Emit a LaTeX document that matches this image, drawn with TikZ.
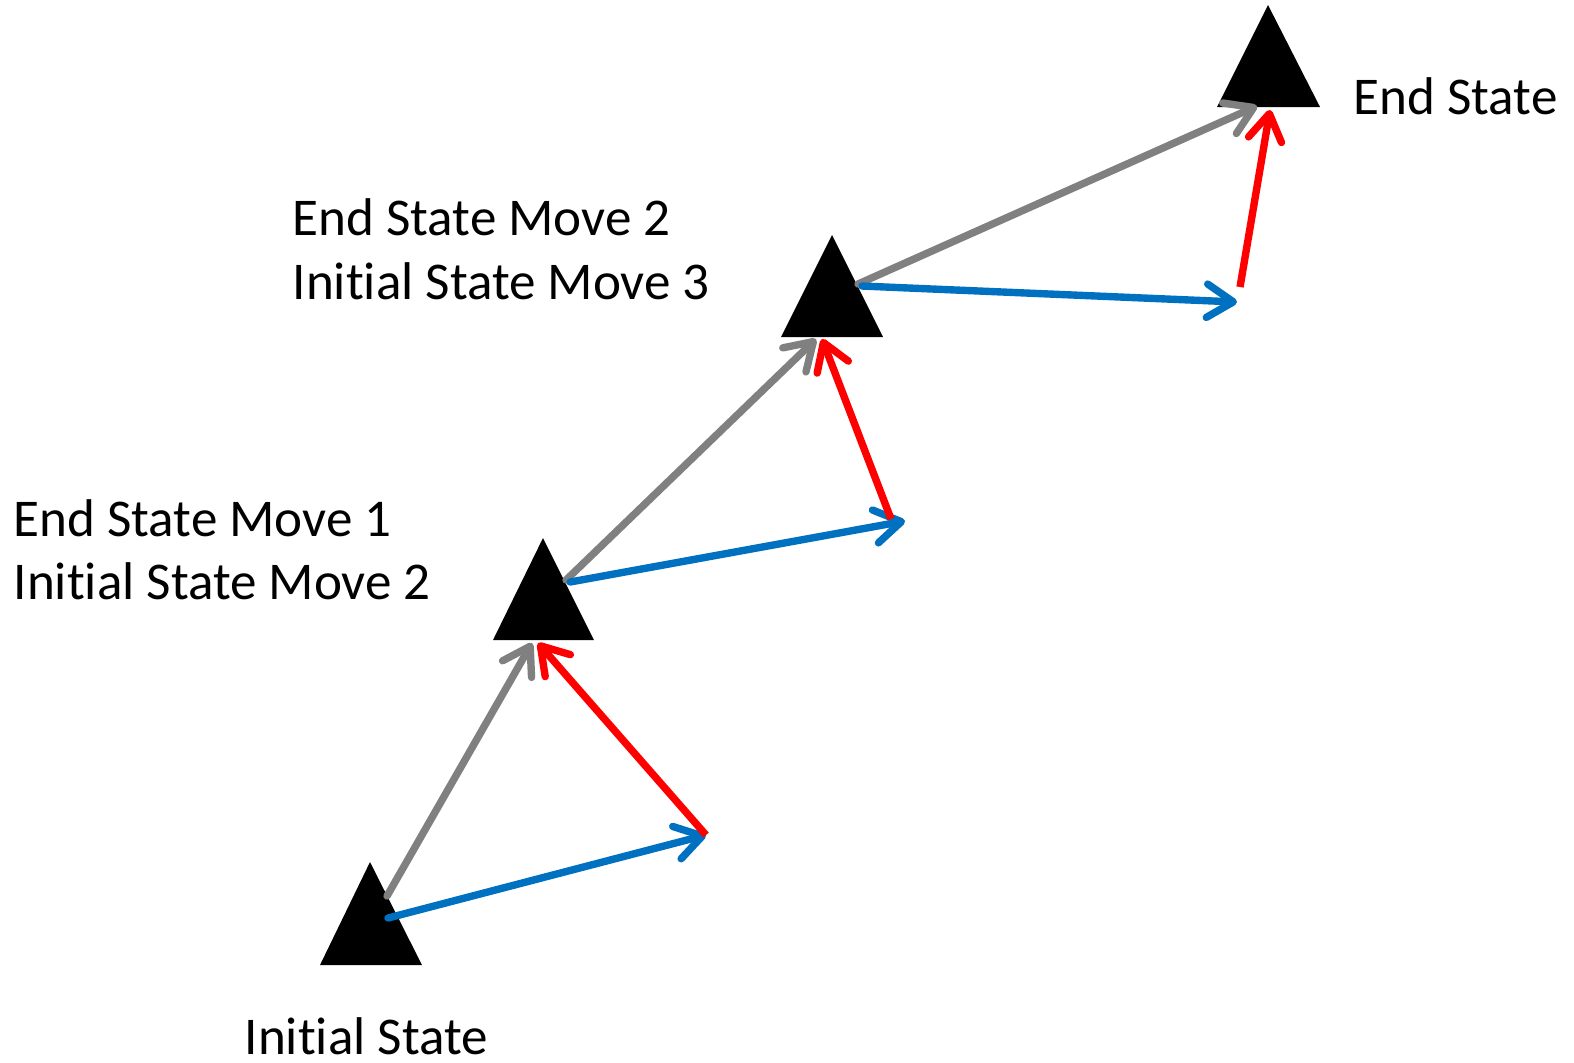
\documentclass[tikz,border=0pt]{standalone}
\usepackage{fontspec}
\setmainfont{Carlito}[RawFeature=-liga]
\usetikzlibrary{arrows.meta}
\definecolor{mvgray}{HTML}{808080}
\definecolor{mvred}{HTML}{FF0000}
\definecolor{mvblue}{HTML}{0070C0}
\begin{document}
\begin{tikzpicture}[x=0.01cm,y=-0.01cm,
  tri/.style={fill=black},
  mv/.style={line width=2.1pt,line cap=round,-{Straight Barb[length=7.5pt,width=9.5pt,line cap=round,line join=round]}},
  gmv/.style={mv,draw=mvgray},
  rmv/.style={mv,draw=mvred},
  bmv/.style={mv,draw=mvblue},
  lbl/.style={anchor=base west,inner sep=0pt,font=\fontsize{15.1}{18}\selectfont}]
\useasboundingbox (0,0) rectangle (1574,1062);
% triangles
\fill[tri] (370,862) -- (422,965) -- (320,965) -- cycle;
\fill[tri] (543,538) -- (594,640) -- (493,640) -- cycle;
\fill[tri] (832,235) -- (883,337) -- (781,337) -- cycle;
\fill[tri] (1268,5) -- (1320,107) -- (1217,107) -- cycle;
% points
\coordinate (s1g) at (387,896);
\coordinate (s1b) at (388,918);
\coordinate (t2g) at (532,643);
\coordinate (t2r) at (538,643);
\coordinate (b1) at (706,835);
\coordinate (s2g) at (566,580);
\coordinate (s2b) at (570,582);
\coordinate (b2) at (905,521);
\coordinate (r2s) at (891,519);
\coordinate (t3g) at (816,339);
\coordinate (t3r) at (822,339);
\coordinate (s3g) at (858,284);
\coordinate (s3b) at (862,286);
\coordinate (b3) at (1237,302);
\coordinate (r3s) at (1240,287);
\coordinate (t4g) at (1257,106);
\coordinate (t4r) at (1270,110);
% moves
\draw[gmv] (s1g) -- (t2g);
\draw[bmv] (s1b) -- (b1);
\draw[rmv,line cap=butt] (b1) -- (t2r);
\draw[gmv] (s2g) -- (t3g);
\draw[bmv] (s2b) -- (b2);
\draw[rmv,line cap=butt] (r2s) -- (t3r);
\draw[gmv] (s3g) -- (t4g);
\draw[bmv] (s3b) -- (b3);
\draw[rmv,line cap=butt] (r3s) -- (t4r);
% labels
\node[lbl] (le) at (1353,114) {End State};
\node[lbl] (l2a) at (292,235) {End State Move 2};
\node[lbl] (l2b) at (292,299) {Initial State Move 3};
\node[lbl] (l1a) at (13,536) {End State Move 1};
\node[lbl] (l1b) at (13,599) {Initial State Move 2};
\node[lbl,text depth=0pt] (li) at (244,1054) {Initial State};
\end{tikzpicture}
\end{document}
